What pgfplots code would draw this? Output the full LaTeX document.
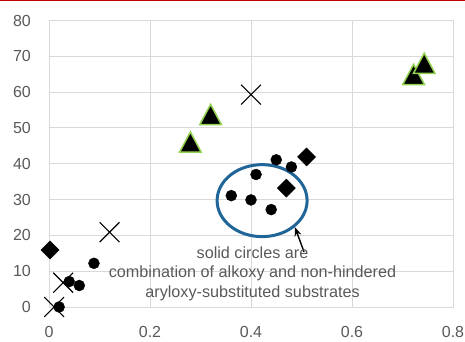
\documentclass[border=0pt]{standalone}
\usepackage{pgfplots}
\pgfplotsset{compat=1.18}
\usepackage{fontspec}
\setmainfont{Liberation Sans}
\usetikzlibrary{arrows.meta}
\definecolor{gridgray}{HTML}{D9D9D9}
\definecolor{txtgray}{HTML}{595959}
\definecolor{ellblue}{HTML}{1F6598}
\definecolor{trigreen}{HTML}{92D050}
\definecolor{topred}{HTML}{C00000}
\begin{document}
\begin{tikzpicture}
\useasboundingbox (0,0) rectangle (465bp,342bp);
\fill[topred] (0,341bp) rectangle (465bp,342bp);
\begin{axis}[
  at={(49bp,35bp)}, anchor=south west,
  scale only axis, width=404bp, height=286.5bp,
  xmin=0, xmax=0.8, ymin=0, ymax=80,
  xtick={0,0.2,0.4,0.6,0.8},
  ytick={0,10,20,30,40,50,60,70,80},
  grid=major,
  major grid style={gridgray, line width=0.9bp},
  axis line style={gridgray, line width=0.9bp},
  tick style={draw=none},
  clip=false,
  /pgf/number format/assume math mode=true,
  /pgf/number format/fixed,
  ticklabel style={font=\fontsize{16bp}{19bp}\selectfont, text=txtgray, inner sep=0pt},
  yticklabel style={anchor=east, xshift=-18bp},
  xticklabel style={anchor=north, yshift=-19.5bp},
]
% triangles (y lowered slightly: pgf triangle mark sits above its point)
\addplot[only marks, mark=triangle*, mark size=12.5bp,
  mark options={fill=black, draw=trigreen, line width=1.5bp, yscale=1.08}]
  coordinates {(0.28,45.1) (0.32,52.8) (0.722,64.0) (0.743,67.1)};
% X marks
\addplot[only marks, mark=x, mark size=14bp, mark options={draw=black, line width=1.1bp}]
  coordinates {(0.40,59.3) (0.12,20.9) (0.028,6.8) (0.01,0)};
% diamonds
\addplot[only marks, mark=square*, mark size=6.4bp, mark options={rotate=45, fill=black, draw=black}]
  coordinates {(0.002,15.9) (0.51,41.9) (0.47,33.2)};
% circles
\addplot[only marks, mark=*, mark size=5.5bp, mark options={fill=black, draw=black}]
  coordinates {(0.02,0) (0.04,7.1) (0.06,6.0) (0.089,12.2)
    (0.361,31.1) (0.40,29.9) (0.41,37.0) (0.44,27.2) (0.45,41.1) (0.48,39.1)};
% annotation
\draw[ellblue, line width=3bp] (axis cs:0.422,29.7) ellipse [x radius=45bp, y radius=36bp];
\draw[black, line width=1.4bp, -{Stealth[length=9bp, width=7bp]}] (axis cs:0.505,15.4) -- (axis cs:0.487,22.3);
\node[align=center, text=txtgray, font=\fontsize{16.2bp}{19.5bp}\selectfont, inner sep=0pt]
  at (axis cs:0.403,9.3) {solid circles are\\combination of alkoxy and non-hindered\\aryloxy-substituted substrates};
\end{axis}
\end{tikzpicture}
\end{document}
